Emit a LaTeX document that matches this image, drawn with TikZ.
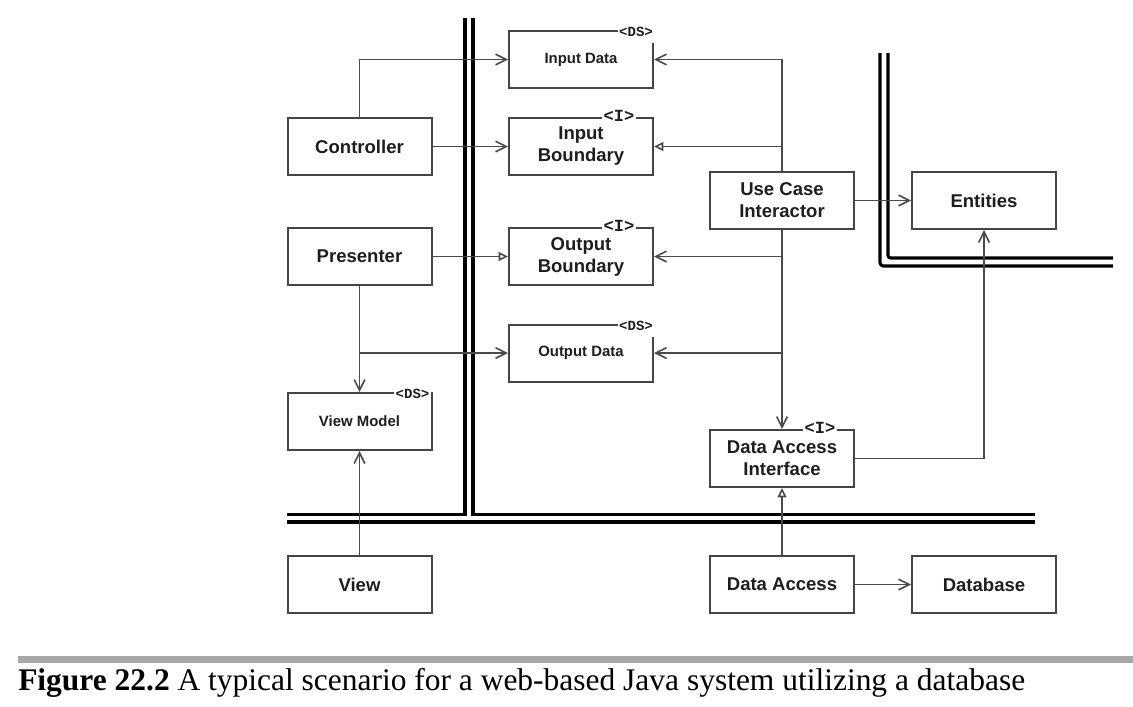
\documentclass[tikz,border=0pt]{standalone}
\usepackage{fontspec}
\setmainfont{Liberation Serif}
\newfontfamily\diasans{Liberation Sans}
\newfontfamily\diamono{Liberation Mono}
\usetikzlibrary{arrows.meta,calc}
\definecolor{boxc}{HTML}{454545}
\definecolor{linec}{HTML}{4A4A4A}
\definecolor{txtc}{HTML}{1E1E1E}
\definecolor{barc}{HTML}{A7A7AA}
\tikzset{
  umlbox/.style={draw=boxc, line width=1.5pt, fill=white, minimum width=108pt, minimum height=42.75pt,
     inner sep=0pt, align=center, text=txtc, font=\diasans\bfseries\fontsize{13.9pt}{16.5pt}\selectfont},
  smallbox/.style={umlbox, font=\diasans\bfseries\fontsize{11.2pt}{13pt}\selectfont},
  dslabel/.style={fill=white, inner sep=1pt, text=txtc, font=\diamono\bfseries\fontsize{10.5pt}{11pt}\selectfont, minimum height=17pt},
  ilabel/.style={fill=white, inner xsep=1pt, inner ysep=0pt, text=txtc, font=\diamono\bfseries\fontsize{12.75pt}{13pt}\selectfont},
  conn/.style={draw=linec, line width=1.3pt},
  usearrow/.style={conn, -{Straight Barb[length=8pt,width=8pt,line width=1.2pt]}},
  implarrow/.style={conn, -{Triangle[open,length=7pt,width=6.5pt,line width=1.2pt]}},
  wall/.style={draw=black, line width=2.3pt},
}
\begin{document}
\begin{tikzpicture}[x=0.75pt,y=-0.75pt]
\useasboundingbox (0,0) rectangle (1133,707);

% boundary walls
\draw[wall] (287,514.5) -- (465,514.5) -- (465,18);
\draw[wall] (473,18) -- (473,514.5) -- (1035,514.5);
\draw[wall] (287,522) -- (1035,522);
\draw[wall,rounded corners=2.5pt] (880,53) -- (880,266) -- (1113,266);
\draw[wall,rounded corners=2pt] (888,53) -- (888,258) -- (1113,258);

% nodes
\node[umlbox] (ctrl) at (359.5,146.5) {Controller};
\node[umlbox] (pres) at (359.5,256.5) {Presenter};
\node[smallbox] (vm) at (359.5,421.5) {View Model};
\node[umlbox] (view) at (359.5,584.5) {View};
\node[smallbox] (ind) at (581,59.5) {Input Data};
\node[umlbox] (inb) at (581,146.5) {Input\\Boundary};
\node[umlbox] (outb) at (581,256.5) {Output\\Boundary};
\node[smallbox] (outd) at (581,353) {Output Data};
\node[umlbox] (uci) at (782,200.5) {Use Case\\Interactor};
\node[umlbox] (ent) at (984,200.5) {Entities};
\node[umlbox] (dai) at (782,458.5) {Data Access\\Interface};
\node[umlbox] (da) at (782,584.5) {Data Access};
\node[umlbox] (db) at (984,584.5) {Database};

% stereotype labels
\node[dslabel] (lind) at ($(ind.north east)+(-18,2)$) {<DS>};
\node[dslabel] (loutd) at ($(outd.north east)+(-18,2)$) {<DS>};
\node[dslabel] (lvm) at ($(vm.north east)+(-20,2)$) {<DS>};
\node[ilabel] (linb) at ($(inb.north east)+(-35,-1)$) {<I>};
\node[ilabel] (loutb) at ($(outb.north east)+(-35,-1)$) {<I>};
\node[ilabel] (ldai) at ($(dai.north east)+(-35,-1)$) {<I>};

% connectors
\draw[usearrow] (ctrl.north) |- (ind.west);
\draw[usearrow] (ctrl.east) -- (inb.west);
\draw[implarrow] (pres.east) -- (outb.west);
\draw[usearrow] (pres.south) -- (vm.north);
\coordinate (pbr) at (pres.south |- outd.west);
\draw[usearrow] (pbr) -- (outd.west);
\draw[usearrow] (view.north) -- (vm.south);

\draw[usearrow] (uci.north) |- (ind.east);
\draw[implarrow] (uci.north |- inb.east) -- (inb.east);
\draw[usearrow] (uci.south) -- (dai.north);
\draw[usearrow] (uci.south |- outb.east) -- (outb.east);
\draw[usearrow] (uci.south |- outd.east) -- (outd.east);
\draw[usearrow] (uci.east) -- (ent.west);
\draw[usearrow] (dai.east) -| (ent.south);
\draw[implarrow] (da.north) -- (dai.south);
\draw[usearrow] (da.east) -- (db.west);

% caption
\fill[barc] (18,656) rectangle (1133,663);
\node[anchor=base west, inner sep=0pt, font=\fontsize{23.6pt}{27pt}\selectfont] (cap) at (18,690)
  {\textbf{Figure 22.2} A typical scenario for a web-based Java system utilizing a database};
\end{tikzpicture}
\end{document}
